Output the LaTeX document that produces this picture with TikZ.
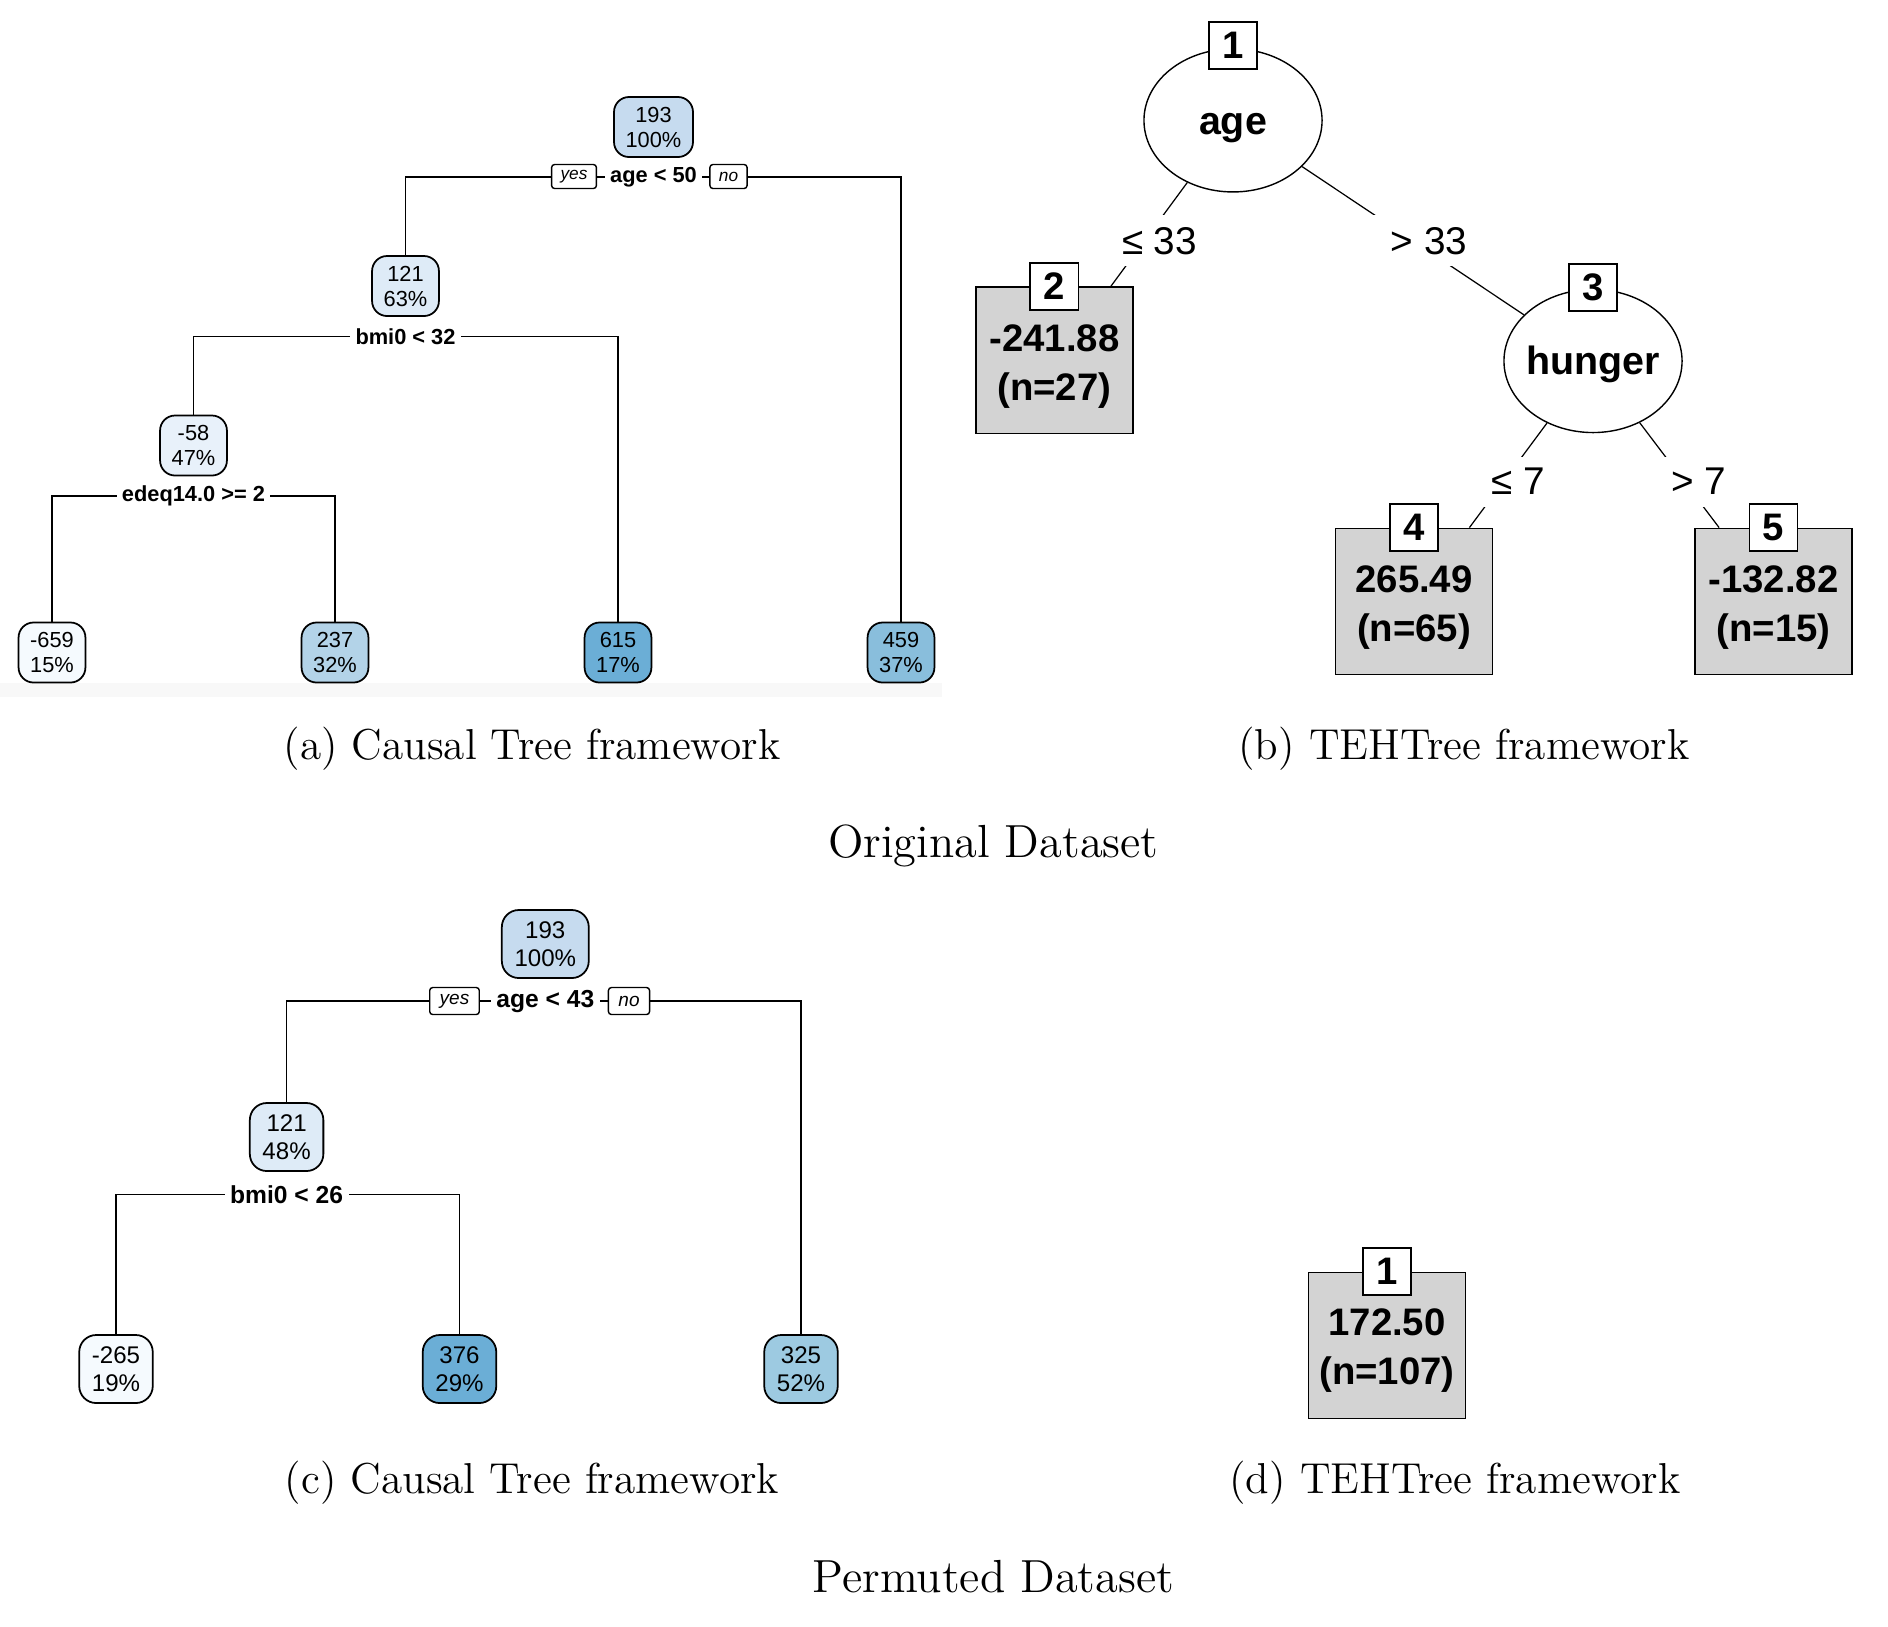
\documentclass[tikz,border=0pt]{standalone}
\usepackage{fontspec}
\newfontfamily\arialf{Liberation Sans}
\usetikzlibrary{shapes.geometric}
\definecolor{cA}{HTML}{C6DBEF}
\definecolor{cB}{HTML}{DEEBF7}
\definecolor{cC}{HTML}{E8F1FA}
\definecolor{cD}{HTML}{F5FAFE}
\definecolor{cE}{HTML}{B3D3E8}
\definecolor{cF}{HTML}{6BAED6}
\definecolor{cG}{HTML}{89BEDC}
\definecolor{cH}{HTML}{9DCAE1}
\definecolor{leafgray}{HTML}{D3D3D3}
\definecolor{bandgray}{HTML}{F8F8F8}
\begin{document}
\begin{tikzpicture}[x=0.01cm,y=-0.01cm,
  rpa/.style={draw, rounded corners=0.15cm, line width=0.5pt, align=center, inner xsep=3.3pt, inner ysep=0pt, minimum height=0.6cm, font=\arialf\fontsize{6.2}{7.1}\selectfont},
  rpc/.style={draw, rounded corners=0.17cm, line width=0.5pt, align=center, inner xsep=3.6pt, inner ysep=0pt, minimum height=0.68cm, font=\arialf\fontsize{6.85}{7.8}\selectfont},
  edgeA/.style={line width=0.45pt},
  splitA/.style={fill=white, inner xsep=1.5pt, inner ysep=1pt, font=\arialf\bfseries\fontsize{6.2}{7}\selectfont},
  splitC/.style={fill=white, inner xsep=1.6pt, inner ysep=1pt, font=\arialf\bfseries\fontsize{7.0}{8}\selectfont},
  ynA/.style={draw, fill=white, rounded corners=0.03cm, line width=0.4pt, minimum height=0.24cm, inner ysep=0pt, inner xsep=0.09cm, font=\arialf\itshape\fontsize{4.9}{5}\selectfont},
  ynC/.style={draw, fill=white, rounded corners=0.03cm, line width=0.4pt, minimum height=0.27cm, inner ysep=0pt, inner xsep=0.1cm, font=\arialf\itshape\fontsize{5.4}{6}\selectfont},
  ellB/.style={ellipse, draw, fill=white, line width=0.4pt, minimum width=1.78cm, minimum height=1.43cm, inner sep=0pt},
  ellT/.style={inner sep=0pt, text height=5.8pt, text depth=0pt, font=\arialf\bfseries\fontsize{11.2}{13}\selectfont},
  leafB/.style={draw, fill=leafgray, line width=0.5pt, minimum width=1.57cm, minimum height=1.46cm, inner sep=0pt},
  leafT/.style={inner sep=0pt, align=center, font=\arialf\bfseries\fontsize{10.9}{13.9}\selectfont},
  idB/.style={draw, fill=white, line width=0.5pt, minimum width=0.48cm, minimum height=0.47cm, inner sep=0pt, font=\arialf\bfseries\fontsize{10.9}{12}\selectfont},
  edgeB/.style={line width=0.35pt},
  elB/.style={fill=white, inner xsep=0.2cm, minimum height=0.5cm, font=\arialf\fontsize{11}{13}\selectfont},
  subcap/.style={anchor=base, inner sep=0pt, font=\fontsize{12.3}{15}\selectfont},
  maincap/.style={anchor=base, inner sep=0pt, font=\fontsize{13.2}{16}\selectfont}
]
\useasboundingbox (0,0) rectangle (1888,1626);
\fill[bandgray] (0,683) rectangle (942,697);

% ---------- panel (a)
\node[rpa, fill=cA] (A1) at (653.5,127) {193\\100\%};
\node[rpa, fill=cB] (A2) at (405.5,286) {121\\63\%};
\node[rpa, fill=cC] (A3) at (193.5,445.5) {-58\\47\%};
\node[rpa, fill=cD] (A4) at (52,652.5) {-659\\15\%};
\node[rpa, fill=cE] (A5) at (335,652.5) {237\\32\%};
\node[rpa, fill=cF] (A6) at (618,652.5) {615\\17\%};
\node[rpa, fill=cG] (A7) at (901,652.5) {459\\37\%};
\coordinate (A1s) at (653.5,177);
\coordinate (A2s) at (405.5,336.5);
\coordinate (A3s) at (193.5,496);
\draw[edgeA] (A2.north) |- (A1s) -| (A7.north);
\draw[edgeA] (A3.north) |- (A2s) -| (A6.north);
\draw[edgeA] (A4.north) |- (A3s) -| (A5.north);
\node[splitA] (A1t) at (A1s) {age < 50};
\node[ynA] (A1y) at (574,176.5) {yes};
\node[ynA] (A1n) at (728.5,176.5) {no};
\node[splitA] (A2t) at (A2s) {bmi0 < 32};
\node[splitA] (A3t) at (A3s) {edeq14.0 >= 2};

% ---------- panel (b)
\node[ellB] (age) at (1233,120.4) {};
\node[ellT] (aget) at ([yshift=-0.04cm]age.center) {age};
\node[ellB] (hunger) at (1593,361) {};
\node[ellT] (hungert) at ([yshift=-0.035cm]hunger.center) {hunger};
\node[leafB] (b2) at (1054.35,360.35) {};
\node[leafT] (b2t) at ([yshift=-0.06cm]b2.center) {-241.88\\(n=27)};
\node[leafB] (b4) at (1414,601.5) {};
\node[leafT] (b4t) at ([yshift=-0.06cm]b4.center) {265.49\\(n=65)};
\node[leafB] (b5) at (1773.5,601.5) {};
\node[leafT] (b5t) at ([yshift=-0.06cm]b5.center) {-132.82\\(n=15)};
\draw[edgeB] (age) -- ([xshift=-0.23cm]b2.north east);
\draw[edgeB] (age) -- (hunger);
\draw[edgeB] (hunger) -- ([xshift=-0.24cm]b4.north east);
\draw[edgeB] (hunger) -- ([xshift=0.25cm]b5.north west);
\node[elB] (e1) at (1159.5,240.8) {≤ 33};
\node[elB] (e2) at (1429,240.8) {> 33};
\node[elB] (e3) at (1518,481.6) {≤ 7};
\node[elB] (e4) at (1699,481.6) {> 7};
\node[idB] (ageid) at ([yshift=0.03cm]age.north) {1};
\node[idB] (hungerid) at ([yshift=0.015cm]hunger.north) {3};
\node[idB] (b2id) at (b2.north) {2};
\node[idB] (b4id) at (b4.north) {4};
\node[idB] (b5id) at (b5.north) {5};

% ---------- panel (c)
\node[rpc, fill=cA] (C1) at (545.3,944) {193\\100\%};
\node[rpc, fill=cB] (C2) at (286.6,1137) {121\\48\%};
\node[rpc, fill=cD] (C3) at (116,1369) {-265\\19\%};
\node[rpc, fill=cF] (C4) at (459.5,1369) {376\\29\%};
\node[rpc, fill=cH] (C5) at (801,1369) {325\\52\%};
\coordinate (C1s) at (545.3,1001);
\coordinate (C2s) at (286.6,1194.5);
\draw[edgeA] (C2.north) |- (C1s) -| (C5.north);
\draw[edgeA] (C3.north) |- (C2s) -| (C4.north);
\node[splitC] (C1t) at (C1s) {age < 43};
\node[ynC] (C1y) at (454.5,1001) {yes};
\node[ynC] (C1n) at (629,1001) {no};
\node[splitC] (C2t) at (C2s) {bmi0 < 26};

% ---------- panel (d)
\node[leafB] (d1) at (1387,1345.5) {};
\node[leafT] (d1t) at ([yshift=-0.05cm]d1.center) {172.50\\(n=107)};
\node[idB] (d1id) at (d1.north) {1};

% ---------- captions
\node[subcap] (capa) at (532,759) {(a) Causal Tree framework};
\node[subcap] (capb) at (1464,759) {(b) TEHTree framework};
\node[maincap] (orig) at (993.4,857) {Original Dataset};
\node[subcap] (capc) at (532,1493.6) {(c) Causal Tree framework};
\node[subcap] (capd) at (1455,1493.6) {(d) TEHTree framework};
\node[maincap] (perm) at (993.4,1592) {Permuted Dataset};
\end{tikzpicture}
\end{document}
